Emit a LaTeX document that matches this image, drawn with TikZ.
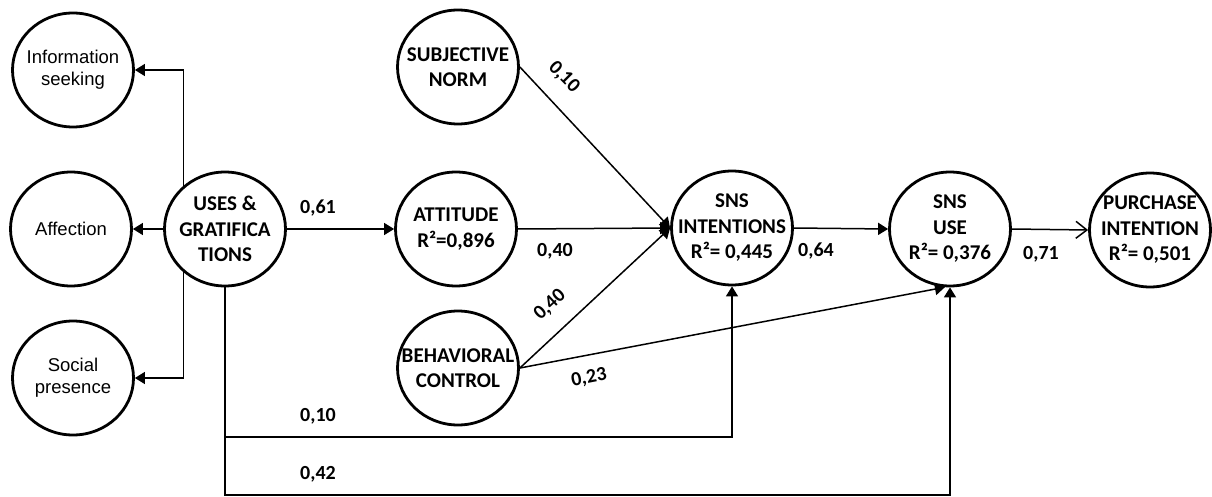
\documentclass[tikz,border=0pt]{standalone}
\usepackage{fontspec}
\setmainfont{Carlito}
\newfontfamily\arialf{Liberation Sans}
\usetikzlibrary{arrows.meta,shapes.geometric}
\begin{document}
\begin{tikzpicture}[x=1pt,y=-1pt,
  lv/.style={ellipse,draw,line width=2.8pt,minimum width=121pt,minimum height=114pt,inner sep=0pt,fill=white},
  bt/.style={font=\fontsize{21}{25.5}\selectfont\bfseries,align=center,inner sep=0pt},
  st/.style={font=\arialf\fontsize{18.5}{22}\selectfont,align=center,inner sep=0pt},
  cn/.style={line width=1.5pt,-{Triangle[length=10pt,width=12pt]}},
  op/.style={line width=1.5pt,-{Straight Barb[length=11pt,width=17pt,line width=1.5pt]}},
  lb/.style={font=\fontsize{20}{24}\selectfont\bfseries,inner sep=0pt}]
\useasboundingbox (0,0) rectangle (1212,497);
% latent variables
\node[lv] (info) at (73,70) {};
\node[st] (tinfo) at (info) {Information\\seeking};
\node[lv] (aff) at (71,229) {};
\node[st] (taff) at (aff) {Affection};
\node[lv] (soc) at (73,378) {};
\node[st] (tsoc) at (soc) {Social\\presence};
\node[lv] (ug) at (225,229) {};
\node[bt] (tug) at (ug) {USES~\&\\GRATIFICA\\TIONS};
\node[lv] (sn) at (458,67) {};
\node[bt] (tsn) at (sn) {SUBJECTIVE\\NORM};
\node[lv] (att) at (456,229) {};
\node[bt] (tatt) at (att) {ATTITUDE\\R²=0,896};
\node[lv] (bc) at (458,368) {};
\node[bt] (tbc) at (bc) {BEHAVIORAL\\CONTROL};
\node[lv] (sni) at (732,228) {};
\node[bt] (tsni) at (sni) {SNS\\INTENTIONS\\R²= 0,445};
\node[lv] (snu) at (950,229) {};
\node[bt] (tsnu) at (snu) {SNS\\USE\\R²= 0,376};
\node[lv] (pi) at (1150,230) {};
\node[bt] (tpi) at (pi) {PURCHASE\\INTENTION\\R²= 0,501};
% connectors
\draw[cn] (ug.134) |- (info.east);
\draw[cn] (ug.west) -- (aff.east);
\draw[cn] (ug.226) |- (soc.east);
\draw[cn] (ug.east) -- (att.west);
\draw[cn] (att.east) -- (sni.west);
\draw[cn] (sn.east) -- (sni.west);
\draw[cn] (bc.east) -- (sni.west);
\draw[cn] (bc.east) -- (snu.265);
\draw[cn] (sni.east) -- (snu.west);
\draw[op] (snu.east) -- (pi.west);
\draw[cn] (ug.south) -- ++(0,149.5) -| (sni.south);
\draw[cn] (ug.south) -- ++(0,207.5) -| (snu.south);
% path coefficients
\node[lb] (l61) at (318,208) {0,61};
\node[lb] (l40a) at (555,251) {0,40};
\node[lb,rotate=-45] (l10a) at (564,77) {0,10};
\node[lb,rotate=43] (l40b) at (550,305) {0,40};
\node[lb,rotate=11] (l23) at (589,378) {0,23};
\node[lb] (l64) at (816,251) {0,64};
\node[lb] (l71) at (1041,254) {0,71};
\node[lb] (l10b) at (318,416) {0,10};
\node[lb] (l42) at (318,474) {0,42};
\end{tikzpicture}
\end{document}
